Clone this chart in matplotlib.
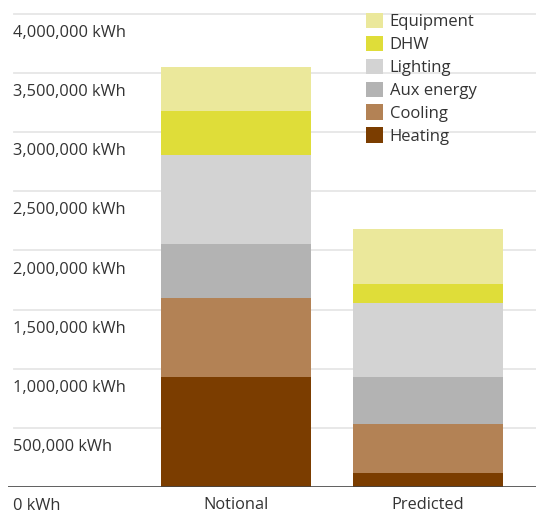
import matplotlib
matplotlib.use("Agg")
import matplotlib.pyplot as plt
from matplotlib.patches import Patch
import matplotlib.transforms as mtransforms

# ---- data ----
categories = ["Notional", "Predicted"]
series_names = ["Heating", "Cooling", "Aux energy", "Lighting", "DHW", "Equipment"]
heating = [931000, 118000]
cooling = [668000, 415000]
aux_energy = [457000, 398000]
lighting = [753000, 626000]
dhw = [372000, 160000]
equipment = [372000, 466000]
series_values = [heating, cooling, aux_energy, lighting, dhw, equipment]
colors = ["#7b3d00", "#b38255", "#b3b3b3", "#d3d3d3", "#dfdd39", "#ebe89b"]
y_ticks = [0, 500000, 1000000, 1500000, 2000000, 2500000, 3000000, 3500000, 4000000]
y_tick_labels = ["0 kWh", "500,000 kWh", "1,000,000 kWh", "1,500,000 kWh", "2,000,000 kWh",
                 "2,500,000 kWh", "3,000,000 kWh", "3,500,000 kWh", "4,000,000 kWh"]

TEXT = "#333333"
FONT = "Open Sans"
FS = 11.8

W, H = 536, 515
fig = plt.figure(figsize=(W / 100, H / 100), dpi=100)

# axes geometry in pixels
ax_left, ax_right = 8, 536
y0_px, y4m_px = 487, 14
ax_top_px = 0
ax = fig.add_axes([ax_left / W, (H - y0_px) / H, (ax_right - ax_left) / W, (y0_px - ax_top_px) / H])

px_per_unit = 192.0
c0 = 236.0
ax.set_xlim((ax_left - c0) / px_per_unit, (ax_right - c0) / px_per_unit)
ymax = 4000000 * (y0_px - ax_top_px) / (y0_px - y4m_px)
ax.set_ylim(0, ymax)

for s in ax.spines.values():
    s.set_visible(False)
ax.set_yticks([])

# gridlines
gx0 = 6 / (ax_right - ax_left)
for v in y_ticks[1:]:
    ax.axhline(v, xmin=gx0, xmax=1, color="#e6e6e6", lw=1.3, zorder=0)
ax.axhline(0, xmin=0, xmax=1, color="#444444", lw=1.2, zorder=3)

# bars
xs = list(range(len(categories)))
bottom = [0] * len(categories)
for name, vals, col in zip(series_names, series_values, colors):
    ax.bar(xs, vals, width=150 / px_per_unit, bottom=bottom, color=col, label=name, zorder=2, linewidth=0)
    bottom = [b + v for b, v in zip(bottom, vals)]

# y labels below gridlines
trans = mtransforms.blended_transform_factory(fig.transFigure, ax.transData)
trans = mtransforms.offset_copy(trans, fig=fig, x=0, y=-11, units="dots")
for v, lab in zip(y_ticks, y_tick_labels):
    ax.text(13 / W, v, lab, transform=trans, ha="left", va="top",
            fontsize=FS, family=FONT, color=TEXT)

# x labels
ax.set_xticks(xs)
ax.set_xticklabels(categories, fontsize=FS, family=FONT, color=TEXT)
ax.tick_params(axis="x", length=0, pad=7)

# legend
handles = [Patch(facecolor=c, edgecolor="none", label=n) for n, c in zip(series_names, colors)][::-1]
leg = fig.legend(handles=handles, loc="upper left", bbox_to_anchor=(366 / W, 1 - 13 / H),
                 frameon=False, borderpad=0, borderaxespad=0,
                 handlelength=17 / 16.4, handleheight=17 / 16.4, handletextpad=0.38,
                 labelspacing=0.33, prop={"family": FONT, "size": 12})
for t in leg.get_texts():
    t.set_color(TEXT)

fig.savefig("out.png", dpi=100)
